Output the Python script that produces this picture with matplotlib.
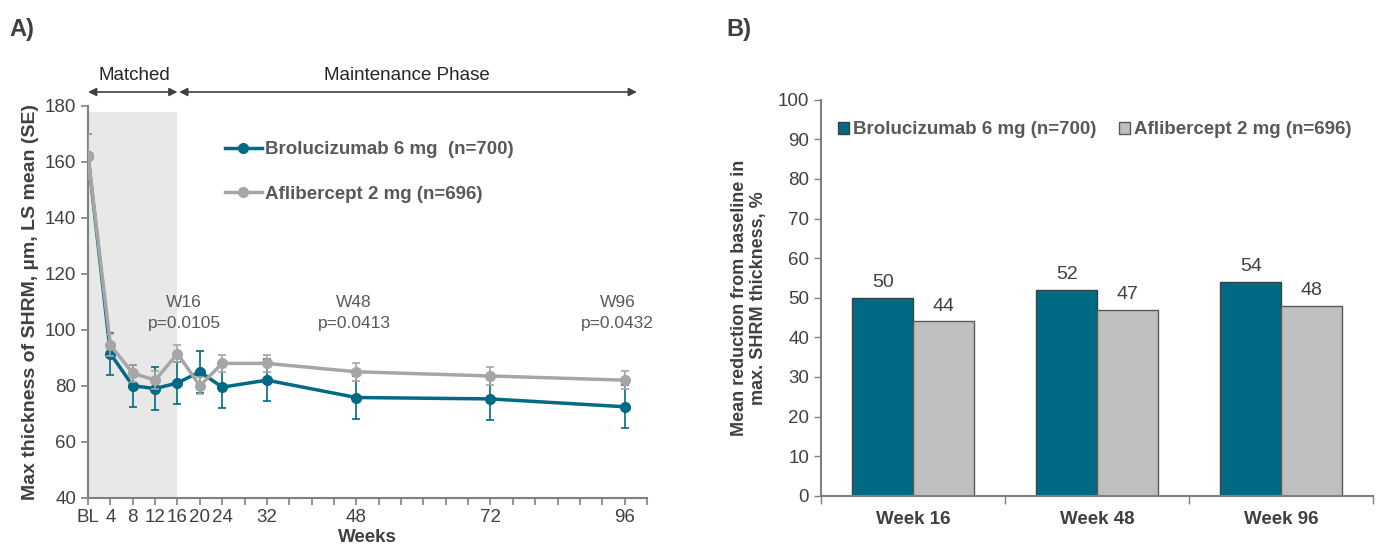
import numpy as np
import matplotlib
matplotlib.use('Agg')
import matplotlib.pyplot as plt
from matplotlib.lines import Line2D

plt.rcParams['font.family'] = ['Liberation Sans', 'DejaVu Sans']

# Panel A data: SHRM max thickness over time
weeks = [0, 4, 8, 12, 16, 20, 24, 32, 48, 72, 96]
brolu = [162, 91.5, 80, 79, 81, 85, 79.5, 82, 75.8, 75.3, 72.5]
brolu_se = [8, 7.5, 7.6, 7.7, 7.5, 7.6, 7.6, 7.5, 7.6, 7.6, 7.6]
aflib = [162, 94.5, 84.5, 82, 91.5, 80, 88, 88, 85, 83.5, 82]
aflib_se = [8, 4, 3, 3.2, 3, 3, 3, 3, 3.2, 3.3, 3.2]
tick_labels = {0: 'BL', 4: '4', 8: '8', 12: '12', 16: '16', 20: '20', 24: '24',
               32: '32', 48: '48', 72: '72', 96: '96'}
pvals = [(17.2, 'W16\np=0.0105'), (47.6, 'W48\np=0.0413'), (94.7, 'W96\np=0.0432')]

# Panel B data: mean reduction in max SHRM thickness
timepoints = ['Week 16', 'Week 48', 'Week 96']
brolu_red = [50, 52, 54]
aflib_red = [44, 47, 48]

teal = '#006A85'
grey_line = '#A6A6A6'
grey_bar = '#BFBFBF'
txt = '#404040'
axc = '#808080'
fs = 13.5

fig = plt.figure(figsize=(13.78, 5.57), dpi=100)

# ---- Panel A ----
ax = fig.add_axes([0.0639, 0.1065, 0.4056, 0.7032])
ax.fill_between([0, 16], 40, 178, color='#E8E8E8', lw=0, zorder=0)
ax.errorbar(weeks, brolu, yerr=brolu_se, color=teal, lw=2.5, marker='o', ms=7,
            elinewidth=1.2, capsize=3, capthick=1.2, zorder=3)
ax.errorbar(weeks, aflib, yerr=aflib_se, color=grey_line, lw=2.5, marker='o', ms=7,
            elinewidth=1.2, capsize=3, capthick=1.2, zorder=4)
ax.set_xlim(0, 100)
ax.set_ylim(40, 180)
ax.set_yticks(range(40, 181, 20))
xt = list(range(0, 101, 4))
ax.set_xticks(xt)
ax.set_xticklabels([tick_labels.get(w, '') for w in xt])
ax.tick_params(colors=axc, labelcolor=txt, labelsize=fs, length=5, width=1.2)
for s in ['top', 'right']:
    ax.spines[s].set_visible(False)
for s in ['left', 'bottom']:
    ax.spines[s].set_color(axc)
    ax.spines[s].set_linewidth(1.5)
ax.set_xlabel('Weeks', fontsize=fs, fontweight='bold', color=txt, labelpad=2)
ax.set_ylabel('Max thickness of SHRM, µm, LS mean (SE)', fontsize=14,
              fontweight='bold', color=txt, labelpad=4)

for x, s in pvals:
    ax.text(x, 106, s, ha='center', va='center', fontsize=12.5, color='#595959',
            linespacing=1.45)

# phase arrows
arrow = dict(arrowstyle='<|-|>', color='#404040', lw=1.2, mutation_scale=12,
             shrinkA=0, shrinkB=0)
ax.annotate('', xy=(0, 185), xytext=(16, 185), arrowprops=arrow, annotation_clip=False)
ax.annotate('', xy=(16.3, 185), xytext=(98.2, 185), arrowprops=arrow, annotation_clip=False)
ax.text(8.3, 191, 'Matched', ha='center', va='center', fontsize=fs, color='#262626')
ax.text(57, 191, 'Maintenance Phase', ha='center', va='center', fontsize=fs, color='#262626')

handles = [Line2D([], [], color=teal, lw=2.5, marker='o', ms=7),
           Line2D([], [], color=grey_line, lw=2.5, marker='o', ms=7)]
leg = ax.legend(handles, ['Brolucizumab 6 mg  (n=700)', 'Aflibercept 2 mg (n=696)'],
                loc='upper left', bbox_to_anchor=(0.214, 0.953), frameon=False,
                labelspacing=1.45, handlelength=2.0, handletextpad=0.15,
                prop={'weight': 'bold', 'size': fs})
for t in leg.get_texts():
    t.set_color('#595959')

# ---- Panel B ----
bx = fig.add_axes([0.5958, 0.110, 0.4006, 0.711])
pos = np.arange(len(timepoints))
w = 0.33
b1 = bx.bar(pos - w / 2, brolu_red, w, color=teal, edgecolor='#404040', lw=1,
            label='Brolucizumab 6 mg (n=700)')
b2 = bx.bar(pos + w / 2, aflib_red, w, color=grey_bar, edgecolor='#595959', lw=1,
            label='Aflibercept 2 mg (n=696)')
bx.bar_label(b1, padding=5, fontsize=14, color=txt)
bx.bar_label(b2, padding=5, fontsize=14, color=txt)
bx.set_xlim(-0.5, 2.5)
bx.set_ylim(0, 100)
bx.set_yticks(range(0, 101, 10))
bx.set_xticks(pos)
bx.set_xticklabels(timepoints, fontweight='bold')
bx.set_xticks([-0.5, 0.5, 1.5, 2.5], minor=True)
bx.tick_params(axis='x', which='major', length=0, pad=11, labelsize=fs, labelcolor=txt)
bx.tick_params(axis='x', which='minor', length=6, width=1, colors=axc)
bx.tick_params(axis='y', colors=axc, labelcolor=txt, labelsize=fs, length=5, width=1)
for s in ['top', 'right']:
    bx.spines[s].set_visible(False)
for s in ['left', 'bottom']:
    bx.spines[s].set_color(axc)
    bx.spines[s].set_linewidth(1.5)
bx.set_ylabel('Mean reduction from baseline in\nmax. SHRM thickness, %', fontsize=13,
              fontweight='bold', color=txt, labelpad=8, linespacing=1.1)
leg2 = bx.legend(loc='upper left', bbox_to_anchor=(0.0, 0.988), ncol=2, frameon=False,
                 handlelength=0.6, handleheight=0.6, handletextpad=0.2, columnspacing=1.2,
                 prop={'weight': 'bold', 'size': fs})
for t in leg2.get_texts():
    t.set_color('#595959')

fig.text(0.007, 0.935, 'A)', fontsize=17, fontweight='bold', color=txt)
fig.text(0.527, 0.935, 'B)', fontsize=17, fontweight='bold', color=txt)

fig.savefig('out.png', dpi=100)
